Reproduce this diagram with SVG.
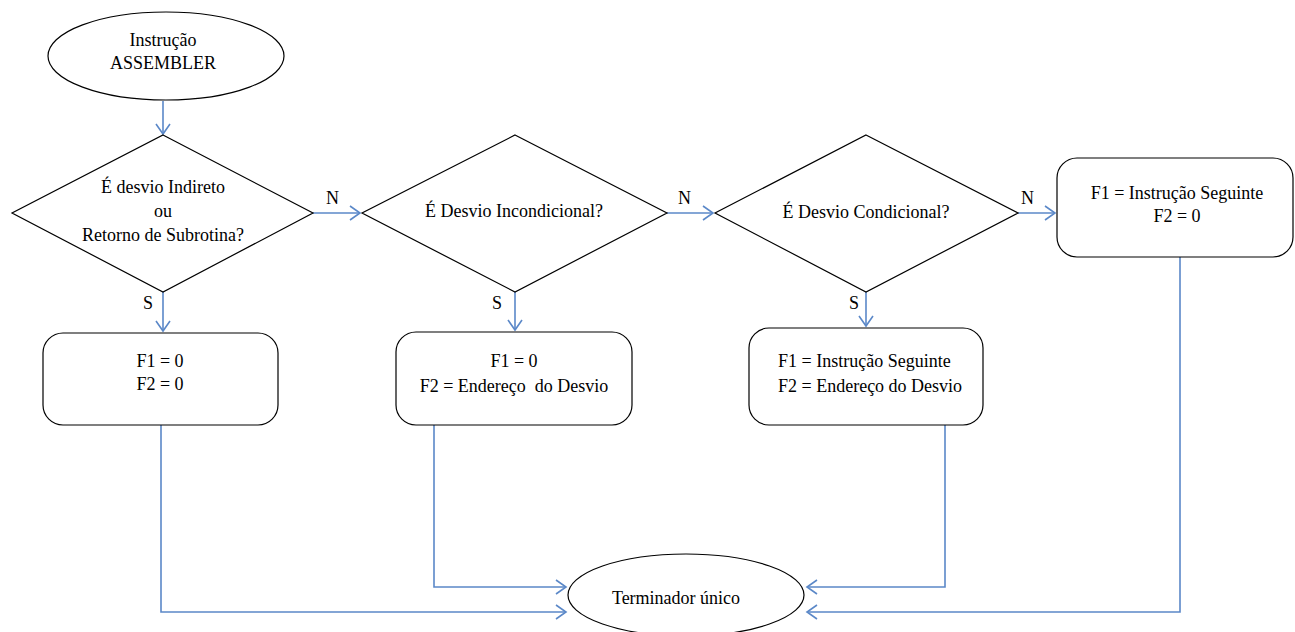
<svg xmlns="http://www.w3.org/2000/svg" width="1295" height="632" viewBox="0 0 1295 632">
<style>
.shape{fill:#fff;stroke:#000;stroke-width:1.2}
.t{font-family:'Liberation Serif','Times New Roman','DejaVu Serif',serif;font-size:18px;fill:#000}
.c{text-anchor:middle}
.conn{fill:none;stroke:#5B88C8;stroke-width:1.6}
</style>
<defs>
<marker id="arr" markerUnits="userSpaceOnUse" markerWidth="14" markerHeight="16" refX="11" refY="8" orient="auto">
<path d="M1,1 L11,8 L1,15" fill="none" stroke="#5B88C8" stroke-width="1.6"/>
</marker>
</defs>
<rect width="1295" height="632" fill="#fff"/>
<g id="connectors">
<line class="conn" x1="163" y1="101" x2="163" y2="134" marker-end="url(#arr)"/>
<line class="conn" x1="313" y1="213" x2="360" y2="213" marker-end="url(#arr)"/>
<line class="conn" x1="667" y1="213" x2="713" y2="213" marker-end="url(#arr)"/>
<line class="conn" x1="1018" y1="213" x2="1055" y2="213" marker-end="url(#arr)"/>
<line class="conn" x1="163" y1="292" x2="163" y2="331" marker-end="url(#arr)"/>
<line class="conn" x1="515" y1="292" x2="515" y2="330" marker-end="url(#arr)"/>
<line class="conn" x1="866" y1="292" x2="866" y2="326" marker-end="url(#arr)"/>
<polyline class="conn" points="161,425 161,612 566,612" marker-end="url(#arr)"/>
<polyline class="conn" points="434,425 434,587 566,587" marker-end="url(#arr)"/>
<polyline class="conn" points="945,425 945,587 807,587" marker-end="url(#arr)"/>
<polyline class="conn" points="1180,257 1180,612 807,612" marker-end="url(#arr)"/>
<text class="t" x="326" y="204">N</text>
<text class="t" x="678" y="204">N</text>
<text class="t" x="1021" y="204">N</text>
<text class="t" x="143" y="309">S</text>
<text class="t" x="492" y="309">S</text>
<text class="t" x="849" y="309">S</text>
</g>
<g id="start">
<ellipse class="shape" cx="166" cy="56" rx="118" ry="44"/>
<text class="t c" x="163" y="46">Instrução</text>
<text class="t c" x="163" y="69">ASSEMBLER</text>
</g>
<g id="d1">
<polygon class="shape" points="163,135 313,213 163,292 12,213"/>
<text class="t c" x="163" y="193">É desvio Indireto</text>
<text class="t c" x="163" y="217">ou</text>
<text class="t c" x="163" y="241">Retorno de Subrotina?</text>
</g>
<g id="d2">
<polygon class="shape" points="515,135 667,213 515,292 362,213"/>
<text class="t c" x="514" y="217">É Desvio Incondicional?</text>
</g>
<g id="d3">
<polygon class="shape" points="866,135 1018,213 866,292 715,213"/>
<text class="t c" x="866" y="218">É Desvio Condicional?</text>
</g>
<g id="b4">
<rect class="shape" x="1057" y="158" width="236" height="99" rx="20" ry="20"/>
<text class="t c" x="1177" y="199">F1 = Instrução Seguinte</text>
<text class="t c" x="1177" y="222">F2 = 0</text>
</g>
<g id="b1">
<rect class="shape" x="43" y="333" width="235" height="92" rx="20" ry="20"/>
<text class="t c" x="160" y="367">F1 = 0</text>
<text class="t c" x="160" y="390">F2 = 0</text>
</g>
<g id="b2">
<rect class="shape" x="396" y="332" width="236" height="93" rx="20" ry="20"/>
<text class="t c" x="514" y="367">F1 = 0</text>
<text class="t c" x="514" y="392" xml:space="preserve">F2 = Endereço  do Desvio</text>
</g>
<g id="b3">
<rect class="shape" x="749" y="328" width="234" height="97" rx="20" ry="20"/>
<text class="t" x="778" y="367">F1 = Instrução Seguinte</text>
<text class="t" x="778" y="392">F2 = Endereço do Desvio</text>
</g>
<g id="end">
<ellipse class="shape" cx="686" cy="595" rx="118" ry="41"/>
<text class="t c" x="676" y="604">Terminador único</text>
</g>
</svg>
